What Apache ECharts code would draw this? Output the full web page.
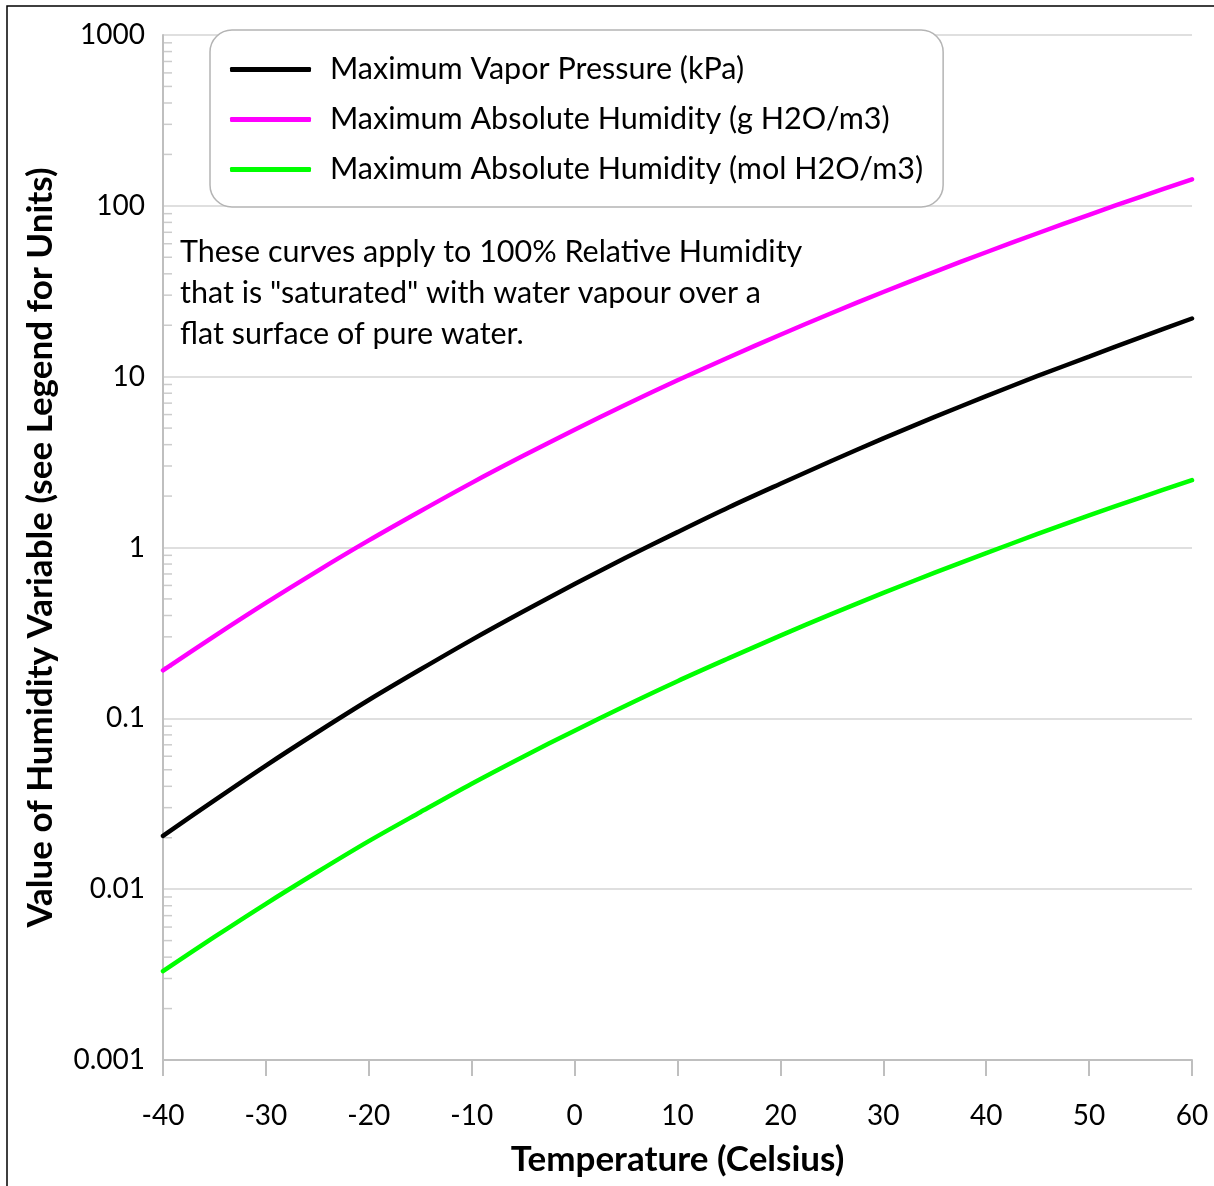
<!DOCTYPE html>
<html><head><meta charset="utf-8">
<script src="https://cdn.jsdelivr.net/npm/echarts@6/dist/echarts.min.js"></script>
<style>html,body{margin:0;padding:0;background:#fff}#c{width:1214px;height:1186px}</style>
</head><body><div id="c"></div>
<script>
// Temperature (Celsius)
const temps = [-40,-35,-30,-25,-20,-15,-10,-5,0,5,10,15,20,25,30,35,40,45,50,55,60];
// Maximum Vapor Pressure (kPa)
const vaporPressure = [0.0205,0.0331,0.0529,0.0829,0.128,0.193,0.288,0.422,0.611,0.873,1.23,1.72,2.36,3.22,4.35,5.81,7.69,10.1,13.1,17.0,21.9];
// Maximum Absolute Humidity (g H2O/m3)
const absHumG = [0.191,0.303,0.474,0.728,1.10,1.63,2.39,3.44,4.89,6.87,9.52,13.0,17.6,23.6,31.3,41.1,53.5,69.1,88.6,113,143];
// Maximum Absolute Humidity (mol H2O/m3)
const absHumMol = [0.00331,0.00525,0.00821,0.0126,0.0191,0.0282,0.0414,0.0596,0.0847,0.119,0.165,0.225,0.305,0.409,0.542,0.712,0.927,1.20,1.54,1.96,2.48];
const yTickLabels = ['0.001','0.01','0.1','1','10','100','1000'];
const xTickLabels = ['-40','-30','-20','-10','0','10','20','30','40','50','60'];
const seriesNames = ['Maximum Vapor Pressure (kPa)','Maximum Absolute Humidity (g H2O/m3)','Maximum Absolute Humidity (mol H2O/m3)'];
const annotation = 'These curves apply to 100% Relative Humidity\nthat is "saturated" with water vapour over a\nflat surface of pure water.';

const FONT = 'Lato';
const pair = arr => temps.map((t,i)=>[t,arr[i]]);
// log minor tick positions (2..9 within each decade)
const minor = [];
for (let k=-3;k<3;k++) for (let m=2;m<=9;m++) minor.push([-40, +(m*Math.pow(10,k)).toPrecision(3)]);

const chart = echarts.init(document.getElementById('c'), null, {renderer:'canvas'});
chart.setOption({
  animation:false,
  backgroundColor:'#fff',
  textStyle:{fontFamily:FONT},
  graphic:[{type:'rect',shape:{x:7,y:6,width:1230,height:1220},style:{fill:null,stroke:'#000',lineWidth:1.5},silent:true}],
  title:{text:annotation,left:180,top:232,padding:0,textStyle:{fontFamily:FONT,fontSize:30.5,fontWeight:'normal',color:'#000',lineHeight:41}},
  legend:{
    data:seriesNames, orient:'vertical', left:210, top:30,
    padding:[24,20,22,20], itemGap:19, itemWidth:81, itemHeight:5, icon:'roundRect',
    borderColor:'#b4b4b4', borderWidth:1.5, borderRadius:22, backgroundColor:'#fff',
    textStyle:{fontFamily:FONT,fontSize:30.5,color:'#000',lineHeight:30,padding:[0,0,0,14]}
  },
  grid:{left:163,right:22,top:35,bottom:126},
  xAxis:{
    type:'value',min:-40,max:60,interval:10,
    name:'Temperature (Celsius)',nameLocation:'middle',nameGap:82,
    nameTextStyle:{fontFamily:FONT,fontSize:35,fontWeight:'bold',color:'#000'},
    axisLine:{onZero:false,lineStyle:{color:'#bfbfbf',width:2}},
    axisTick:{show:true,length:16,lineStyle:{color:'#bfbfbf',width:2}},
    axisLabel:{fontFamily:FONT,fontSize:28,color:'#000',margin:42,formatter:v=>xTickLabels[Math.round((v+40)/10)]},
    splitLine:{show:false}
  },
  yAxis:{
    type:'log',logBase:10,min:0.001,max:1000,
    name:'Value of Humidity Variable (see Legend for Units)',nameLocation:'middle',nameGap:105,nameRotate:90,
    nameTextStyle:{fontFamily:FONT,fontSize:35,fontWeight:'bold',color:'#000'},
    axisLine:{show:true,onZero:false,lineStyle:{color:'#bfbfbf',width:2}},
    axisTick:{show:false},
    axisLabel:{fontFamily:FONT,fontSize:28,color:'#000',margin:18,formatter:v=>yTickLabels[Math.round(Math.log10(v))+3]},
    splitLine:{show:true,lineStyle:{color:'#d4d4d4',width:1.5}}
  },
  series:[
    {name:seriesNames[0],type:'line',data:pair(vaporPressure),showSymbol:false,smooth:0.3,color:'#000',lineStyle:{width:4.5,color:'#000',cap:'round'},z:3},
    {name:seriesNames[1],type:'line',data:pair(absHumG),showSymbol:false,smooth:0.3,color:'#ff00ff',lineStyle:{width:4.5,color:'#ff00ff',cap:'round'},z:3},
    {name:seriesNames[2],type:'line',data:pair(absHumMol),showSymbol:false,smooth:0.3,color:'#00ff00',lineStyle:{width:4.5,color:'#00ff00',cap:'round'},z:3},
    {name:'minorTicks',type:'scatter',data:minor,symbol:'rect',symbolSize:[9,1.5],symbolOffset:[4.5,0],clip:false,silent:true,itemStyle:{color:'#bfbfbf'},z:1}
  ]
});
</script></body></html>
